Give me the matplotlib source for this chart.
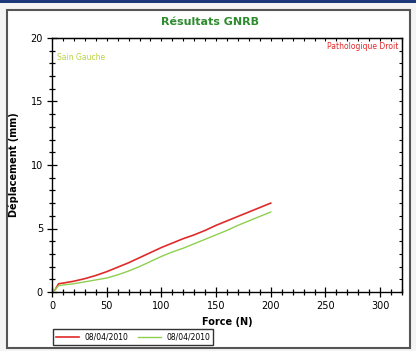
import matplotlib
matplotlib.use("Agg")
import matplotlib.pyplot as plt
from matplotlib.patches import Rectangle
from matplotlib.ticker import MultipleLocator, NullFormatter

force = [0, 3, 6, 10, 20, 30, 40, 50, 60, 70, 80, 90, 100, 110, 120, 130, 140,
         150, 160, 170, 180, 190, 200]
droit = [0, 0.2, 0.65, 0.7, 0.85, 1.05, 1.3, 1.6, 1.95, 2.3, 2.7, 3.1, 3.5, 3.85,
         4.2, 4.5, 4.85, 5.25, 5.6, 5.95, 6.3, 6.65, 7.0]
gauche = [0, 0.2, 0.5, 0.55, 0.65, 0.8, 0.95, 1.1, 1.35, 1.65, 2.0, 2.4, 2.8, 3.15,
          3.45, 3.8, 4.15, 4.5, 4.85, 5.25, 5.6, 5.95, 6.3]
labels = ["08/04/2010", "08/04/2010"]

W, H = 416, 351
fig = plt.figure(figsize=(W / 100, H / 100), dpi=100, facecolor="#f4f4f4")

# outer frame and top strip (behind the axes)
fig.patches.append(Rectangle((0, 1 - 3 / H), 1, 3 / H, transform=fig.transFigure,
                             facecolor="#1f3a7a", edgecolor="none", zorder=-2))
fig.patches.append(Rectangle((7 / W, 3 / H), 403 / W, 338 / H, transform=fig.transFigure,
                             facecolor="white", edgecolor="#555555", linewidth=1.5,
                             zorder=-1))

ax = fig.add_axes([52 / W, 1 - 292 / H, 350 / W, 254 / H])
ax.set_facecolor("white")
ax.plot(force, droit, color="#e02a2a", linewidth=1.2, label=labels[0])
ax.plot(force, gauche, color="#8fcf4f", linewidth=1.0, label=labels[1])

ax.set_xlim(0, 320)
ax.set_ylim(0, 20)
ax.xaxis.set_major_locator(MultipleLocator(50))
ax.xaxis.set_minor_locator(MultipleLocator(10))
ax.yaxis.set_major_locator(MultipleLocator(5))
ax.yaxis.set_minor_locator(MultipleLocator(1))
ax.tick_params(which="both", direction="inout", labelsize=7, width=0.9, pad=3)
ax.tick_params(which="major", length=7)
ax.tick_params(which="minor", length=4)
for sp in ax.spines.values():
    sp.set_linewidth(1.0)

# small inward ticks on top and right
top = ax.secondary_xaxis("top")
top.xaxis.set_major_locator(MultipleLocator(10))
top.xaxis.set_major_formatter(NullFormatter())
top.tick_params(direction="in", length=2.5, width=0.8)
right = ax.secondary_yaxis("right")
right.yaxis.set_major_locator(MultipleLocator(1))
right.yaxis.set_major_formatter(NullFormatter())
right.tick_params(direction="in", length=2.5, width=0.8)

ax.set_xlabel("Force (N)", fontsize=7, fontweight="bold", labelpad=4)
ax.set_ylabel("Déplacement (mm)", fontsize=7, fontweight="bold", labelpad=8)

ax.text(0.99, 0.985, "Pathologique Droit", transform=ax.transAxes, ha="right",
        va="top", fontsize=5.5, color="#e02a2a")
ax.text(0.015, 0.94, "Sain Gauche", transform=ax.transAxes, ha="left",
        va="top", fontsize=5.5, color="#b8d640")

fig.text(0.505, 1 - 22 / H, "Résultats GNRB", ha="center", va="center",
         fontsize=8, fontweight="bold", color="#2e8b2e")

fig.legend(loc="lower left", bbox_to_anchor=(53 / W, 1 - 345 / H), ncol=2,
           fontsize=5.5, frameon=True, fancybox=False, edgecolor="black",
           handlelength=3.0, borderpad=0.45, columnspacing=1.2, handletextpad=0.7,
           borderaxespad=0)

plt.savefig("out.png", dpi=100, facecolor=fig.get_facecolor())
plt.close()
